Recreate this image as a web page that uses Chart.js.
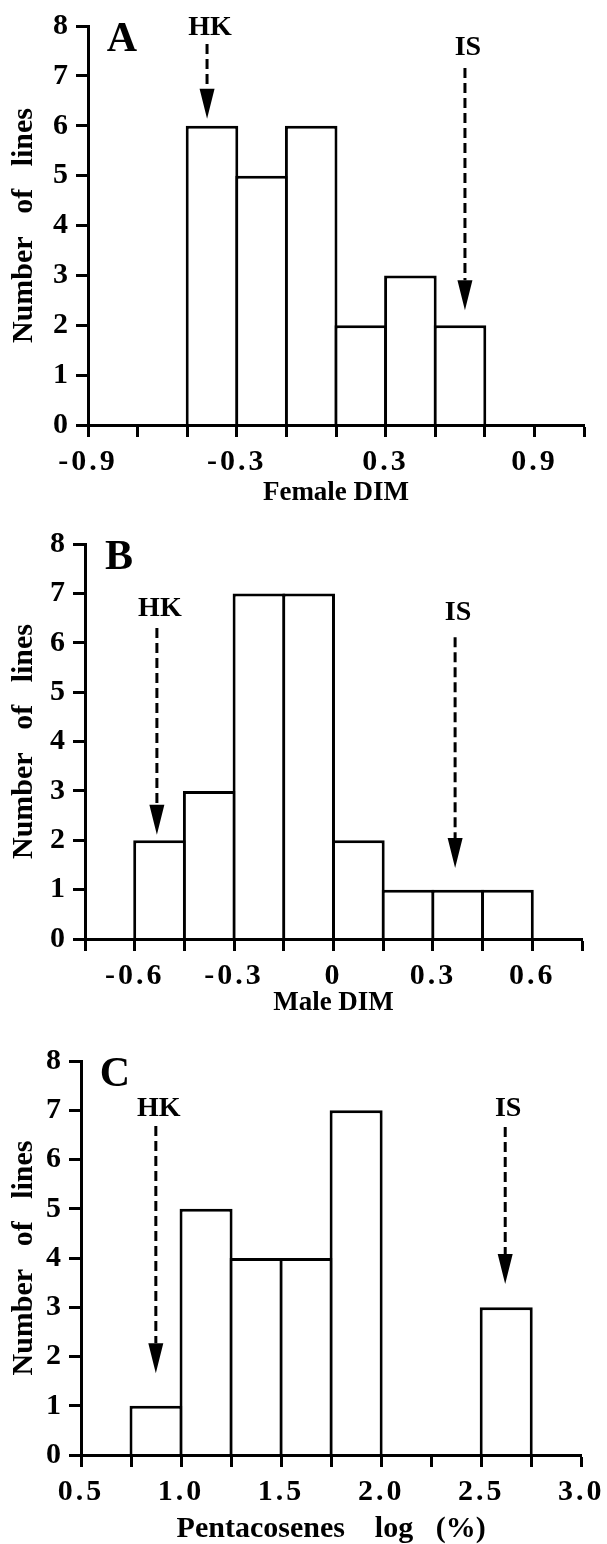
<!DOCTYPE html>
<html>
<head>
<meta charset="utf-8">
<script src="https://cdn.jsdelivr.net/npm/chart.js@4.4.1/dist/chart.umd.min.js"></script>
<style>
  body { margin: 0; background: #fff; }
  canvas { display: block; }
</style>
</head>
<body>
<canvas id="chartA" width="607" height="515"></canvas>
<canvas id="chartB" width="607" height="515"></canvas>
<canvas id="chartC" width="607" height="514"></canvas>
<script>
// Panel A - female DIM
const binsA = [-0.4, -0.2, 0, 0.2, 0.4, 0.6];
const countsA = [6, 5, 6, 2, 3, 2];
const ticksA = [-0.9, -0.7, -0.5, -0.3, -0.1, 0.1, 0.3, 0.5, 0.7, 0.9, 1.1];
const tickLabelsA = ['-0.9', '', '', '-0.3', '', '', '0.3', '', '', '0.9', ''];
const arrowNamesA = ['HK', 'IS'];
const arrowXA = [-0.42, 0.62];
const arrowFromA = [7.64, 7.16];
const arrowToA = [6.14, 2.3];
const arrowTextYA = [7.96, 7.56];

// Panel B - male DIM
const binsB = [-0.525, -0.375, -0.225, -0.075, 0.075, 0.225, 0.375, 0.525];
const countsB = [2, 3, 7, 7, 2, 1, 1, 1];
const ticksB = [-0.75, -0.6, -0.45, -0.3, -0.15, 0, 0.15, 0.3, 0.45, 0.6, 0.75];
const tickLabelsB = ['', '-0.6', '', '-0.3', '', '0', '', '0.3', '', '0.6', ''];
const arrowNamesB = ['HK', 'IS'];
const arrowXB = [-0.533, 0.367];
const arrowFromB = [6.3, 6.11];
const arrowToB = [2.11, 1.44];
const arrowTextYB = [6.68, 6.6];

// Panel C - pentacosenes
const binsC = [0.875, 1.125, 1.375, 1.625, 1.875, 2.625];
const countsC = [1, 5, 4, 4, 7, 3];
const ticksC = [0.5, 0.75, 1.0, 1.25, 1.5, 1.75, 2.0, 2.25, 2.5, 2.75, 3.0];
const tickLabelsC = ['0.5', '', '1.0', '', '1.5', '', '2.0', '', '2.5', '', '3.0'];
const arrowNamesC = ['HK', 'IS'];
const arrowXC = [0.874, 2.62];
const arrowFromC = [6.68, 6.66];
const arrowToC = [1.66, 3.47];
const arrowTextYC = [7.03, 7.03];

const serif = "'Liberation Serif', 'Times New Roman', serif";
Chart.defaults.font.family = serif;
Chart.defaults.font.weight = 'bold';
Chart.defaults.color = '#000';

// dashed arrows, HK / IS text and the panel letter
const marksPlugin = {
  id: 'marks',
  beforeDraw(chart) {
    const s = chart.scales.x;
    if (!s._spaced) {
      const orig = s.drawLabels;
      s.drawLabels = function (area) {
        const c = this.ctx;
        c.save();
        c.letterSpacing = '3px';
        orig.call(this, area);
        c.restore();
      };
      s._spaced = true;
    }
  },
  afterDatasetsDraw(chart, args, opts) {
    const ctx = chart.ctx;
    const xs = chart.scales.x, ys = chart.scales.y;
    const area = chart.chartArea;
    ctx.save();
    ctx.fillStyle = '#000';
    ctx.strokeStyle = '#000';
    opts.names.forEach((name, i) => {
      const x = xs.getPixelForValue(opts.x[i]);
      const y1 = ys.getPixelForValue(opts.from[i]);
      const y2 = ys.getPixelForValue(opts.to[i]);
      const head = 30;
      ctx.lineWidth = 3;
      ctx.setLineDash([10, 5]);
      ctx.beginPath();
      ctx.moveTo(x, y1);
      ctx.lineTo(x, y2 - head);
      ctx.stroke();
      ctx.setLineDash([]);
      ctx.beginPath();
      ctx.moveTo(x - 7.5, y2 - head);
      ctx.lineTo(x + 7.5, y2 - head);
      ctx.lineTo(x, y2);
      ctx.closePath();
      ctx.fill();
      ctx.font = 'bold 28px ' + serif;
      ctx.textAlign = 'center';
      ctx.textBaseline = 'middle';
      ctx.fillText(name, x + 3, ys.getPixelForValue(opts.textY[i]));
    });
    ctx.font = 'bold 42px ' + serif;
    ctx.textAlign = 'center';
    ctx.textBaseline = 'middle';
    ctx.fillText(opts.letter, area.left + 34, area.top + 14);
    ctx.restore();
  }
};

function makeChart(id, p) {
  return new Chart(document.getElementById(id), {
    type: 'bar',
    data: {
      datasets: [{
        data: p.bins.map((b, i) => ({ x: b, y: p.counts[i] })),
        backgroundColor: '#fff',
        borderColor: '#000',
        borderWidth: 3,
        borderSkipped: 'start',
        barPercentage: 1.06,
        categoryPercentage: 1
      }]
    },
    options: {
      responsive: false,
      animation: false,
      layout: { padding: { left: 0, right: p.padRight, top: p.padTop, bottom: 0 } },
      plugins: {
        legend: { display: false },
        tooltip: { enabled: false },
        marks: p.marks
      },
      scales: {
        x: {
          type: 'linear',
          offset: false,
          min: p.ticks[0],
          max: p.ticks[p.ticks.length - 1],
          afterBuildTicks: s => { s.ticks = p.ticks.map(v => ({ value: v })); },
          afterFit: s => { s.height = p.xHeight; },
          ticks: {
            autoSkip: false,
            maxRotation: 0,
            padding: 7,
            font: { size: 30, weight: 'bold' },
            callback: (v, i) => p.tickLabels[i]
          },
          grid: { offset: false, drawOnChartArea: false, drawTicks: true, tickLength: 12, tickWidth: 3, color: '#000' },
          border: { display: true, color: '#000', width: 3, z: 1 },
          title: {
            display: true,
            text: p.xTitle,
            font: { size: p.xTitleSize, weight: 'bold', lineHeight: 1 },
            padding: { top: 0, bottom: p.xTitlePad }
          }
        },
        y: {
          min: 0,
          max: 8,
          afterFit: s => { s.width = p.yWidth; },
          ticks: { stepSize: 1, padding: 8, font: { size: 30, weight: 'bold' } },
          grid: { drawOnChartArea: false, drawTicks: true, tickLength: 12, tickWidth: 3, color: '#000' },
          border: { display: true, color: '#000', width: 3, z: 1 },
          title: {
            display: true,
            text: 'Number   of   lines',
            font: { size: 30, weight: 'bold', lineHeight: 1 },
            padding: { top: 9, bottom: 0 }
          }
        }
      }
    },
    plugins: [marksPlugin]
  });
}

makeChart('chartA', {
  bins: binsA, counts: countsA, ticks: ticksA, tickLabels: tickLabelsA,
  xTitle: 'Female DIM', xTitleSize: 27, xTitlePad: 8,
  padTop: 25, padRight: 23, xHeight: 90, yWidth: 88,
  marks: { names: arrowNamesA, x: arrowXA, from: arrowFromA, to: arrowToA, textY: arrowTextYA, letter: 'A' }
});

makeChart('chartB', {
  bins: binsB, counts: countsB, ticks: ticksB, tickLabels: tickLabelsB,
  xTitle: 'Male DIM', xTitleSize: 27, xTitlePad: 13,
  padTop: 29, padRight: 25, xHeight: 91, yWidth: 85,
  marks: { names: arrowNamesB, x: arrowXB, from: arrowFromB, to: arrowToB, textY: arrowTextYB, letter: 'B' }
});

makeChart('chartC', {
  bins: binsC, counts: countsC, ticks: ticksC, tickLabels: tickLabelsC,
  xTitle: 'Pentacosenes    log   (%)', xTitleSize: 30, xTitlePad: 0,
  padTop: 31, padRight: 25, xHeight: 89, yWidth: 81,
  marks: { names: arrowNamesC, x: arrowXC, from: arrowFromC, to: arrowToC, textY: arrowTextYC, letter: 'C' }
});
</script>
</body>
</html>
